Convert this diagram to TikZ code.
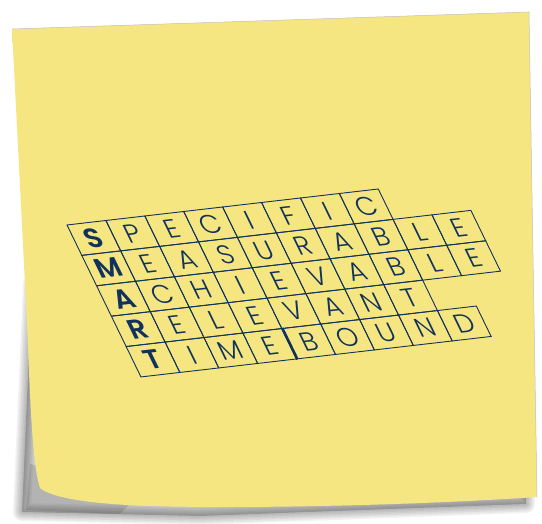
\documentclass[tikz,border=0pt]{standalone}
\usepackage{fontspec}
\newfontfamily\handfont{Poppins Light}
\newfontfamily\initfont{Poppins SemiBold}
\usetikzlibrary{positioning}

\definecolor{noteyellow}{RGB}{246,230,130}
\definecolor{notelight}{RGB}{249,238,158}
\definecolor{inkblue}{RGB}{16,50,92}

\newcommand{\notepath}{(12,495) -- (529,512) -- (537,27)
  .. controls (420,19) and (250,15) .. (150,18)
  .. controls (90,20) and (52,26) .. (40,36)
  .. controls (32,60) and (30,130) .. (27,200) -- cycle}
\newcommand{\narrow}[1]{\scalebox{0.82}[1]{#1}}

\tikzset{
  cell/.style={draw=inkblue, line width=0.9pt, minimum width=30pt, minimum height=30pt,
    inner sep=0pt, transform shape, text=inkblue, font=\handfont\fontsize{25}{25}\selectfont},
  letter1/.style={font=\initfont\fontsize{26}{26}\selectfont},
}

\begin{document}
\begin{tikzpicture}[x=1pt, y=1pt]
  \useasboundingbox (0,0) rectangle (542,524);

  % shadow under the note
  \foreach \w in {18,15,...,3}
    \draw[black, opacity=0.05, line width=\w pt, line join=round]
      (32,240) -- (22,12) -- (200,8) -- (526,20) -- (520,300) -- cycle;
  \fill[black, opacity=0.2] (32,240) -- (22,12) -- (200,8) -- (526,20) -- (520,300) -- cycle;
  \fill[black, opacity=0.12] (30,60) -- (26,14) -- (120,10) -- (140,30) -- cycle;

  % the note
  \shade[shading angle=135, left color=noteyellow, middle color=notelight, right color=noteyellow] \notepath;
  \draw[black!25, line width=0.5pt] (12,495) -- (529,512) -- (537,27);

  % letter grid
  \begin{scope}[cm={1.297,0.15,-0.493,1.013,(67,299)}]
    \foreach \word [count=\r] in {{S,P,E,C,I,F,I,C}, {M,E,A,S,U,R,A,B,L,E},
        {A,C,H,I,E,V,A,B,L,E}, {R,E,L,E,V,A,N,T}, {T,I,M,E,B,O,U,N,D}}
      \foreach \l [count=\c] in \word
        \node[cell, letter\c/.try] (cell-\r-\c) at (30*\c-15,15-30*\r) {\narrow{\l}};
    \draw[inkblue, line width=2.6pt] (cell-5-4.north east) -- (cell-5-4.south east);
  \end{scope}
\end{tikzpicture}
\end{document}
